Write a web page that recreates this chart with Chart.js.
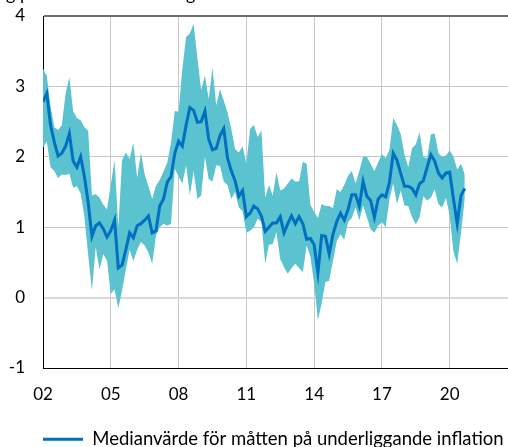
<!DOCTYPE html>
<html>
<head>
<meta charset="utf-8">
<script src="https://cdn.jsdelivr.net/npm/chart.js@4/dist/chart.umd.min.js"></script>
<style>
  body { margin: 0; background: #fff; }
  .wrap { width: 508px; height: 447px; position: relative; }
</style>
</head>
<body>
<div class="wrap"><canvas id="myChart"></canvas></div>
<script>
// every second month, Jan 2002 - Sep 2020
const months = [
  '2002-01', '2002-03', '2002-05', '2002-07', '2002-09', '2002-11',
  '2003-01', '2003-03', '2003-05', '2003-07', '2003-09', '2003-11',
  '2004-01', '2004-03', '2004-05', '2004-07', '2004-09', '2004-11',
  '2005-01', '2005-03', '2005-05', '2005-07', '2005-09', '2005-11',
  '2006-01', '2006-03', '2006-05', '2006-07', '2006-09', '2006-11',
  '2007-01', '2007-03', '2007-05', '2007-07', '2007-09', '2007-11',
  '2008-01', '2008-03', '2008-05', '2008-07', '2008-09', '2008-11',
  '2009-01', '2009-03', '2009-05', '2009-07', '2009-09', '2009-11',
  '2010-01', '2010-03', '2010-05', '2010-07', '2010-09', '2010-11',
  '2011-01', '2011-03', '2011-05', '2011-07', '2011-09', '2011-11',
  '2012-01', '2012-03', '2012-05', '2012-07', '2012-09', '2012-11',
  '2013-01', '2013-03', '2013-05', '2013-07', '2013-09', '2013-11',
  '2014-01', '2014-03', '2014-05', '2014-07', '2014-09', '2014-11',
  '2015-01', '2015-03', '2015-05', '2015-07', '2015-09', '2015-11',
  '2016-01', '2016-03', '2016-05', '2016-07', '2016-09', '2016-11',
  '2017-01', '2017-03', '2017-05', '2017-07', '2017-09', '2017-11',
  '2018-01', '2018-03', '2018-05', '2018-07', '2018-09', '2018-11',
  '2019-01', '2019-03', '2019-05', '2019-07', '2019-09', '2019-11',
  '2020-01', '2020-03', '2020-05', '2020-07', '2020-09'
]

// lowest of the measures
const lowest = [
  2.13, 2.22, 1.85, 1.80, 1.70, 1.75,
  1.74, 1.76, 1.56, 1.58, 1.48, 1.15,
  0.60, 0.10, 0.72, 0.40, 0.62, 0.52,
  0.05, 0.12, -0.15, 0.10, 0.40, 0.68,
  0.52, 0.68, 0.79, 0.74, 0.64, 0.48,
  0.88, 1.00, 1.05, 1.02, 1.05, 1.83,
  1.72, 1.62, 1.88, 1.45, 1.80, 1.40,
  1.45, 2.00, 1.68, 1.65, 1.88, 1.87,
  1.65, 1.60, 1.40, 1.50, 1.28, 1.23,
  0.92, 0.95, 1.00, 1.12, 1.08, 0.48,
  0.75, 0.76, 0.93, 0.55, 0.43, 0.34,
  0.42, 0.48, 0.42, 0.36, 0.74, 0.58,
  0.20, -0.32, -0.08, 0.22, 0.24, 0.52,
  0.80, 0.90, 0.82, 1.07, 1.13, 1.28,
  1.10, 1.31, 1.14, 0.97, 0.92, 1.02,
  1.07, 1.00, 1.40, 1.62, 1.33, 1.52,
  1.31, 1.30, 1.14, 1.04, 1.14, 1.44,
  1.38, 1.42, 1.54, 1.33, 1.28, 1.42,
  1.16, 0.65, 0.48, 0.92, 1.40
]

// highest of the measures
const highest = [
  3.25, 3.15, 2.72, 2.42, 2.38, 2.45,
  2.90, 3.13, 2.65, 2.55, 2.52, 2.42,
  2.37, 1.45, 1.47, 1.42, 1.32, 1.25,
  1.60, 1.95, 1.00, 1.95, 2.06, 1.97,
  2.20, 1.70, 2.06, 1.75, 1.58, 1.40,
  1.59, 1.67, 1.79, 1.92, 2.20, 2.65,
  2.64, 3.25, 3.70, 3.75, 3.89, 3.40,
  2.95, 3.15, 2.82, 3.27, 2.73, 2.96,
  2.80, 2.63, 2.40, 2.11, 2.06, 2.15,
  1.90, 2.40, 2.45, 2.28, 2.37, 1.42,
  1.60, 1.45, 1.78, 1.52, 1.55, 1.62,
  1.69, 1.65, 1.65, 1.93, 1.90, 1.32,
  1.22, 1.13, 1.33, 1.30, 1.30, 1.27,
  1.54, 1.50, 1.60, 1.73, 1.80, 1.62,
  1.80, 2.00, 2.00, 1.90, 1.80, 1.92,
  2.04, 1.98, 2.10, 2.55, 2.45, 2.32,
  2.03, 1.85, 2.12, 2.18, 2.35, 2.00,
  1.98, 2.32, 2.33, 2.05, 2.00, 2.02,
  2.09, 2.00, 1.82, 1.90, 1.75
]

// median of the measures
const median = [
  2.78, 2.90, 2.45, 2.21, 2.01, 2.05,
  2.15, 2.33, 1.94, 1.85, 2.00, 1.72,
  1.35, 0.87, 1.02, 1.06, 0.98, 0.86,
  0.95, 1.10, 0.42, 0.46, 0.68, 0.92,
  0.85, 1.02, 1.05, 1.10, 1.16, 0.92,
  0.95, 1.30, 1.40, 1.64, 1.72, 2.05,
  2.22, 2.15, 2.45, 2.70, 2.66, 2.49,
  2.50, 2.65, 2.25, 2.10, 2.12, 2.30,
  2.40, 1.98, 1.80, 1.66, 1.44, 1.52,
  1.15, 1.20, 1.30, 1.26, 1.16, 0.94,
  1.00, 1.06, 1.06, 1.15, 0.92, 1.05,
  1.16, 1.05, 1.15, 1.05, 0.83, 0.84,
  0.75, 0.35, 0.88, 0.87, 0.62, 0.90,
  1.08, 1.20, 1.10, 1.25, 1.46, 1.46,
  1.30, 1.65, 1.44, 1.38, 1.14, 1.40,
  1.46, 1.43, 1.64, 2.05, 1.95, 1.76,
  1.58, 1.58, 1.55, 1.46, 1.62, 1.66,
  1.85, 2.03, 1.94, 1.77, 1.70, 1.77,
  1.78, 1.40, 1.05, 1.45, 1.55
]

const yearTicks = [2002, 2005, 2008, 2011, 2014, 2017, 2020]
const yTicks = [-1, 0, 1, 2, 3, 4]
const legendText = 'Medianvärde för måtten på underliggande inflation'
const titleText = 'Årlig procentuell förändring'

const FONT = { family: 'Lato', size: 17 }

// '2002-03' -> 2002.1667
const toYear = m => {
  const parts = m.split('-')
  return Number(parts[0]) + (Number(parts[1]) - 1) / 12
}
const points = arr => arr.map((v, i) => ({ x: toYear(months[i]), y: v }))

// title sits above the canvas, only the descenders show
const cutTitle = {
  id: 'cutTitle',
  afterDraw(chart) {
    const ctx = chart.ctx
    ctx.save()
    ctx.font = '18px Lato'
    ctx.fillStyle = '#000'
    ctx.textBaseline = 'alphabetic'
    const w = ctx.measureText('Årlig ').width
    ctx.fillText(titleText, 20 - w, -0.5)
    ctx.restore()
  }
}

new Chart(document.querySelector('#myChart'), {
  type: 'line',
  data: {
    datasets: [
      {
        label: 'lägsta',
        data: points(lowest),
        borderWidth: 0,
        pointRadius: 0,
        fill: false,
        order: 2
      },
      {
        label: 'högsta',
        data: points(highest),
        borderWidth: 0,
        pointRadius: 0,
        backgroundColor: '#5bc2d0',
        fill: '-1',
        order: 1
      },
      {
        label: legendText,
        data: points(median),
        borderColor: '#0070c0',
        borderWidth: 3,
        pointRadius: 0,
        fill: false,
        order: 0
      }
    ]
  },
  options: {
    responsive: true,
    maintainAspectRatio: false,
    animation: false,
    layout: { padding: { left: 0, right: 0, top: 16, bottom: 0 } },
    plugins: {
      tooltip: { enabled: false },
      legend: {
        position: 'bottom',
        align: 'start',
        fullSize: false,
        maxHeight: 17,
        labels: {
          usePointStyle: true,
          pointStyle: 'line',
          pointStyleWidth: 40,
          padding: 0,
          color: '#000',
          font: { family: 'Lato', size: 18.5 },
          filter: item => item.datasetIndex === 2
        }
      }
    },
    scales: {
      x: {
        type: 'linear',
        min: 2002,
        max: 2022.58,
        afterBuildTicks: scale => {
          scale.ticks = yearTicks.map(v => ({ value: v }))
        },
        afterFit: scale => { scale.height = 62 },
        ticks: {
          color: '#000',
          font: FONT,
          padding: 16,
          maxRotation: 0,
          callback: v => String(v).slice(2)
        },
        grid: { color: '#c6c6c6', lineWidth: 1, drawTicks: false },
        border: { color: '#000', width: 1 }
      },
      y: {
        min: -1,
        max: 4,
        afterBuildTicks: scale => {
          scale.ticks = yTicks.map(v => ({ value: v }))
        },
        afterFit: scale => {
          scale.width = 43
          scale.paddingTop = 0
          scale.paddingBottom = 0
        },
        ticks: { color: '#000', font: FONT, padding: 18 },
        grid: {
          drawTicks: false,
          color: c => c.tick.value === 4 ? '#6f6f6f' : (c.tick.value === 0 ? '#d9d9d9' : '#c6c6c6'),
          lineWidth: c => (c.tick.value === 4 || c.tick.value === 0) ? 2 : 1
        },
        border: { color: '#000', width: 1 }
      }
    }
  },
  plugins: [cutTitle]
})
</script>
</body>
</html>
